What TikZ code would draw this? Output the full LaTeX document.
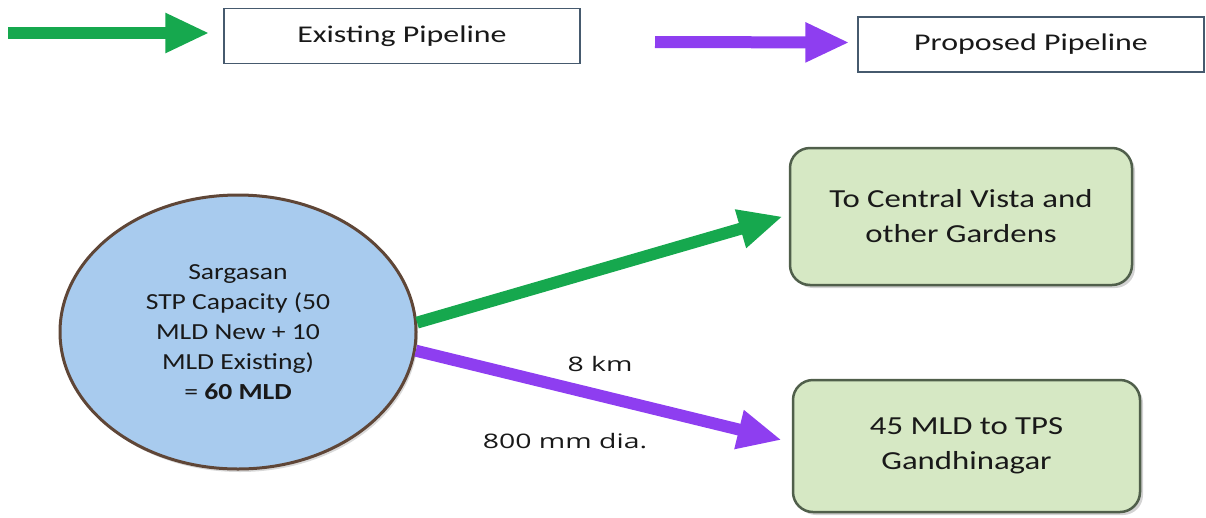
\documentclass[tikz,border=0pt]{standalone}
\usepackage{fontspec}
\setmainfont{Carlito}
\newfontfamily\legfont{Carlito}[FakeStretch=1.33]
\newfontfamily\circfont{Carlito}[FakeStretch=1.2]
\newfontfamily\boxfont{Carlito}[FakeStretch=1.26]
\newfontfamily\lblfont{Open Sans}[FakeStretch=1.42]
\usetikzlibrary{arrows.meta,shapes.geometric,shadows}
\definecolor{pgreen}{RGB}{22,168,78}
\definecolor{ppurple}{RGB}{142,62,240}
\definecolor{circfill}{RGB}{168,203,238}
\definecolor{circedge}{RGB}{95,70,55}
\definecolor{boxfill}{RGB}{214,232,196}
\definecolor{boxedge}{RGB}{80,95,75}
\definecolor{legedge}{RGB}{70,90,110}
\definecolor{txt}{RGB}{25,25,25}
\begin{document}
\begin{tikzpicture}[x=1pt,y=-1pt,
  legbox/.style={draw=legedge,line width=1.2pt,fill=white,inner sep=0pt,
    font=\legfont\fontsize{24}{30}\selectfont,text=txt},
  dest/.style={draw=boxedge,line width=2.5pt,fill=boxfill,rounded corners=20pt,
    inner sep=0pt,align=center,font=\boxfont\fontsize{26}{35}\selectfont,text=txt,
    drop shadow={opacity=0.35,shadow xshift=3pt,shadow yshift=-3pt}},
  stpnode/.style={ellipse,draw=circedge,line width=3pt,fill=circfill,inner sep=0pt,
    align=center,font=\circfont\fontsize{23}{30}\selectfont,text=txt,
    drop shadow={opacity=0.3,shadow xshift=2pt,shadow yshift=-3pt}},
  pipe/.style={line width=12pt,-{Triangle[length=44pt,width=37pt]}},
  lbl/.style={font=\lblfont\fontsize{20}{24}\selectfont,text=txt,inner sep=0pt}
]
\useasboundingbox (0,0) rectangle (1206,517);

% legend
\node[legbox,minimum width=356pt,minimum height=55pt] (ex) at (402,36) {Existing Pipeline};
\node[legbox,minimum width=346pt,minimum height=55pt] (pp) at (1031,44.5) {Proposed Pipeline};
\coordinate (g0) at (8,33);
\coordinate (p0) at (655,42);
\draw[pipe,draw=pgreen,fill=pgreen] (g0) -- ([xshift=-14pt,yshift=3pt]ex.west);
\draw[pipe,draw=ppurple,fill=ppurple] (p0) -- ([xshift=-8pt,yshift=2pt]pp.west);

% main nodes
\node[stpnode,minimum width=356pt,minimum height=274pt] (stp) at (238,332)
  {Sargasan\\STP Capacity (50\\MLD New + 10\\MLD Existing)\\= \textbf{60 MLD}};
\node[dest,minimum width=342pt,minimum height=137pt] (cv) at (961,216.5)
  {To Central Vista and\\other Gardens};
\node[dest,minimum width=347pt,minimum height=132pt] (gn) at (966.5,446)
  {45 MLD to TPS\\Gandhinagar};

% pipes
\draw[pipe,draw=pgreen,fill=pgreen] (stp.3) -- ([xshift=-6pt]cv.west);
\draw[pipe,draw=ppurple,fill=ppurple] (stp.-6) -- ([xshift=-10pt,yshift=6pt]gn.west);

% labels
\node[lbl] (km) at (600,364) {8 km};
\node[lbl] (dia) at (565,441) {800 mm dia.};
\end{tikzpicture}
\end{document}
